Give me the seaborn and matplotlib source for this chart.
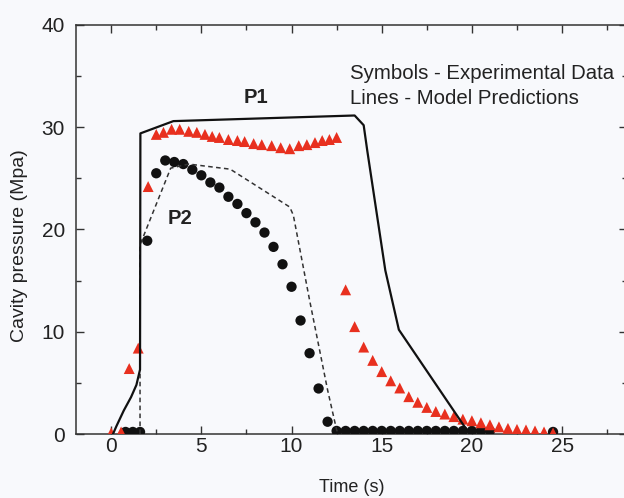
import matplotlib
matplotlib.use("Agg")
import matplotlib.pyplot as plt
from matplotlib.ticker import MultipleLocator
import pandas as pd
import seaborn as sns

# Model predictions (lines)
p1_model_t = [0.1, 0.3, 0.7, 1.1, 1.4, 1.6, 1.62, 3.45, 13.5, 14.0, 14.2, 15.2, 15.95, 19.6, 19.9]
p1_model_p = [0.0, 0.8, 2.3, 3.6, 4.8, 6.3, 29.4, 30.6, 31.15, 30.2, 27.7, 16.0, 10.2, 0.7, 0.0]

p2_model_t = [1.6, 1.6, 3.3, 4.3, 6.6, 9.9, 10.1, 11.0, 12.0, 12.5, 12.6]
p2_model_p = [0.0, 18.5, 26.0, 26.4, 25.9, 22.2, 21.4, 13.1, 4.3, 0.4, 0.0]

# Experimental data (symbols)
p1_exp_t = [0.0, 0.55, 1.0, 1.5, 2.05, 2.5, 2.9, 3.35, 3.8, 4.3, 4.75, 5.2, 5.6,
            6.0, 6.5, 7.0, 7.4, 7.9, 8.35, 8.9, 9.4, 9.9, 10.4, 10.85, 11.3,
            11.7, 12.1, 12.5, 13.0, 13.5, 14.0, 14.5, 15.0, 15.5, 16.0, 16.5,
            17.0, 17.5, 18.0, 18.5, 19.0, 19.5, 20.0, 20.5, 21.0, 21.5, 22.0,
            22.5, 23.0, 23.5, 24.0, 24.5]
p1_exp_p = [0.1, 0.2, 6.4, 8.4, 24.2, 29.3, 29.5, 29.8, 29.8, 29.6, 29.5, 29.3, 29.1,
            29.0, 28.8, 28.7, 28.6, 28.4, 28.3, 28.2, 28.0, 27.9, 28.2, 28.3, 28.5,
            28.7, 28.8, 29.0, 14.1, 10.5, 8.5, 7.2, 6.1, 5.2, 4.5, 3.65,
            3.1, 2.6, 2.2, 1.95, 1.7, 1.45, 1.3, 1.1, 0.9, 0.7, 0.55,
            0.45, 0.4, 0.3, 0.2, 0.1]

p2_exp_t = [0.8, 1.2, 1.6, 2.0, 2.5, 3.0, 3.5, 4.0, 4.5, 5.0, 5.5, 6.0, 6.5, 7.0,
            7.5, 8.0, 8.5, 9.0, 9.5, 10.0, 10.5, 11.0, 11.5, 12.0, 12.5, 13.0,
            13.5, 14.0, 14.5, 15.0, 15.5, 16.0, 16.5, 17.0, 17.5, 18.0, 18.5,
            19.0, 19.5, 20.0, 20.5, 21.0, 24.5]
p2_exp_p = [0.2, 0.2, 0.2, 18.9, 25.5, 26.75, 26.6, 26.4, 25.85, 25.3, 24.6, 24.1, 23.2, 22.5,
            21.6, 20.7, 19.7, 18.3, 16.6, 14.4, 11.1, 7.9, 4.45, 1.2, 0.3, 0.3,
            0.3, 0.3, 0.3, 0.3, 0.3, 0.3, 0.3, 0.3, 0.3, 0.3, 0.3,
            0.3, 0.3, 0.3, 0.3, 0.3, 0.2]

x_ticks = [0, 5, 10, 15, 20, 25]
y_ticks = [0, 10, 20, 30, 40]

sns.set_theme(style="ticks")
plt.rcParams["font.family"] = ["Liberation Sans", "DejaVu Sans"]

bg = "#f8f9fc"
ink = "#222222"
red = "#e8301f"

fig = plt.figure(figsize=(6.24, 4.98), dpi=100, facecolor=bg)
ax = fig.add_axes([76 / 624, 1 - 434 / 498, 551 / 624, 409 / 498])
ax.set_facecolor(bg)

df_p2_exp = pd.DataFrame({"t": p2_exp_t, "p": p2_exp_p})
df_p1_exp = pd.DataFrame({"t": p1_exp_t, "p": p1_exp_p})
df_p1_mod = pd.DataFrame({"t": p1_model_t, "p": p1_model_p})
df_p2_mod = pd.DataFrame({"t": p2_model_t, "p": p2_model_p})

sns.scatterplot(data=df_p2_exp, x="t", y="p", ax=ax, marker="o", s=55,
                color="#111111", edgecolor="none", zorder=3)
sns.scatterplot(data=df_p1_exp, x="t", y="p", ax=ax, marker="^", s=62,
                color=red, edgecolor="none", zorder=4)
sns.lineplot(data=df_p2_mod, x="t", y="p", ax=ax, sort=False, estimator=None,
             color="#333333", lw=1.1, dashes=False, zorder=5)
ax.lines[-1].set_dashes((3.0, 2.2))
sns.lineplot(data=df_p1_mod, x="t", y="p", ax=ax, sort=False, estimator=None,
             color="#111111", lw=1.6, zorder=6)

ax.set_xlim(-1.95, 28.6)
ax.set_ylim(0, 40)
ax.set_xticks(x_ticks)
ax.set_yticks(y_ticks)
ax.xaxis.set_minor_locator(MultipleLocator(2.5))
ax.yaxis.set_minor_locator(MultipleLocator(5))
ax.tick_params(which="both", direction="in", top=True, right=True,
               colors="#333333", labelcolor=ink, labelsize=15, width=1.0)
ax.tick_params(which="major", length=6)
ax.tick_params(which="minor", length=3.5)
ax.tick_params(axis="x", which="major", pad=2.5)
ax.tick_params(axis="y", which="major", pad=8)
for sp in ax.spines.values():
    sp.set_color("#333333")
    sp.set_linewidth(1.1)

ax.set_xlabel("Time (s)", fontsize=13, color=ink, labelpad=16)
ax.set_ylabel("Cavity pressure (Mpa)", fontsize=14, color=ink)
ax.yaxis.set_label_coords(-0.087, 0.46)

ax.text(8.0, 32.9, "P1", fontsize=14.5, fontweight="bold", color=ink,
        ha="center", va="center")
ax.text(3.8, 21.1, "P2", fontsize=14.5, fontweight="bold", color=ink,
        ha="center", va="center")
ax.text(13.25, 35.3, "Symbols - Experimental Data", fontsize=14.7, color=ink,
        ha="left", va="center")
ax.text(13.25, 32.8, "Lines - Model Predictions", fontsize=14.7, color=ink,
        ha="left", va="center")

fig.savefig("out.png", dpi=100, facecolor=bg)
